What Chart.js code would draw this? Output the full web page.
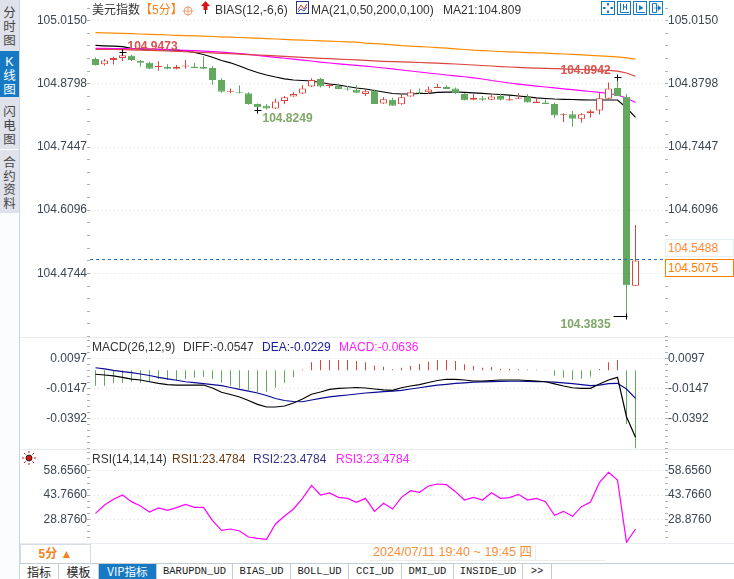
<!DOCTYPE html>
<html>
<head>
<meta charset="utf-8">
<title>美元指数</title>
<script src="https://cdn.jsdelivr.net/npm/chart.js@4/dist/chart.umd.min.js"></script>
<style>
  html, body { margin: 0; padding: 0; background: #fff; }
  body { position: relative; width: 734px; height: 579px; overflow: hidden; font: 12px "Liberation Sans", "Noto Sans CJK SC", sans-serif; color: #333; }
  canvas { position: absolute; left: 20px; }
  .t { position: absolute; white-space: nowrap; line-height: 14px; }
  .side { position: absolute; left: 0; top: 0; width: 19px; height: 579px; background: #fbfcfe; border-right: 1px solid #cdd6e0; }
  .tab { position: absolute; left: 0; width: 19px; background: #dfe2eb; text-align: center; font-size: 12.5px; line-height: 14px; color: #444; }
  .tab.on { background: #1579c4; color: #fff; }
  .hr { position: absolute; left: 20px; width: 714px; height: 1px; background: #e6ecf0; }
  .btab { position: absolute; top: 564px; height: 15px; line-height: 15px; text-align: center; border-right: 1px solid #c4ccd4; font: 10.5px/15px "Liberation Mono", "Noto Sans CJK SC", monospace; color: #222; }
  .btab.cn { font: 12px/15px "Noto Sans CJK SC", sans-serif; }
  .btab.on { background: #1579c4; color: #fff; }
  .box { position: absolute; left: 665px; width: 67px; height: 16px; line-height: 16px; text-indent: 2px; color: #ff8a33; background: #fff; }
  .ico { position: absolute; top: 1px; width: 12px; height: 12px; border: 1px solid #1579c4; }
</style>
</head>
<body>
<div class="side"></div>
<div class="tab" style="top:0;height:51px;"><div style="padding-top:6px;">分<br>时<br>图</div></div>
<div class="tab on" style="top:51px;height:46px;"><div style="padding-top:4px;">K<br>线<br>图</div></div>
<div class="tab" style="top:97px;height:52px;"><div style="padding-top:8px;">闪<br>电<br>图</div></div>
<div class="tab" style="top:150px;height:63px;"><div style="padding-top:7px;line-height:13.5px;">合<br>约<br>资<br>料</div></div>

<div class="hr" style="top:337px;"></div>
<div class="hr" style="top:449px;"></div>
<div class="hr" style="top:543px;"></div>
<div class="hr" style="top:563px;background:#c4ccd4;"></div>

<canvas id="priceChart" width="714" height="337" style="top:0"></canvas>
<canvas id="macdChart" width="714" height="111" style="top:338px"></canvas>
<canvas id="rsiChart" width="714" height="93" style="top:450px"></canvas>

<span class="t" style="left:92px;top:3px;">美元指数</span>
<span class="t" style="left:140px;top:3px;color:#f58220;">【5分】</span>
<svg style="position:absolute;left:183px;top:6px" width="10" height="10"><circle cx="5" cy="5" r="4" fill="none" stroke="#f0a070"/><path d="M0 5H10M5 0V10" stroke="#f0a070"/></svg>
<svg style="position:absolute;left:200px;top:1px" width="11" height="13"><path d="M5.5 0L10 5H7.5V9H3.5V5H1Z" fill="#e01010"/><path d="M5.5 9V13" stroke="#222"/></svg>
<span class="t" style="left:215px;top:3px;">BIAS(12,-6,6)</span>
<svg style="position:absolute;left:296px;top:1px" width="13" height="13"><rect x=".5" y=".5" width="12" height="12" fill="#fff" stroke="#223a80"/><path d="M2 9L5 4L8 8L11 3" fill="none" stroke="#e03030"/><path d="M2 11L5 8L8 10L11 6" fill="none" stroke="#2050c0"/></svg>
<span class="t" style="left:311px;top:3px;">MA(21,0,50,200,0,100)</span>
<span class="t" style="left:443px;top:3px;">MA21:104.809</span>

<div class="ico" style="left:601px"><svg width="12" height="12"><path d="M6 1V3.5M6 8.5V11M1 6H3.5M8.5 6H11" stroke="#1579c4" stroke-width="2"/></svg></div>
<div class="ico" style="left:617px"><svg width="12" height="12"><path d="M2.5 1V10.5H11M5.5 2V8M8.5 2V8M5.5 5H8.5" stroke="#1579c4" fill="none"/></svg></div>
<div class="ico" style="left:633px"><svg width="12" height="12"><path d="M2.5 1V10.5H11" stroke="#1579c4" fill="none"/><path d="M5 3L9.5 6L5 8.5Z" fill="#1579c4"/></svg></div>
<div class="ico" style="left:649px"><svg width="12" height="12"><path d="M2.5 1.5H6.5V10.5H2.5Z" stroke="#1579c4" fill="none"/><path d="M4 6H8M8 3.5L11 6L8 8.5Z" fill="#1579c4" stroke="#1579c4" stroke-width=".6"/></svg></div>

<div class="box" style="top:239px;border:1px solid #e6eef2;">104.5488</div>
<div class="box" style="top:259px;border:1px solid #ff8000;color:#ff8000;">104.5075</div>

<span class="t" style="left:92px;top:340px;">MACD(26,12,9)</span>
<span class="t" style="left:183px;top:340px;">DIFF:-0.0547</span>
<span class="t" style="left:262px;top:340px;color:#1a1a9c;">DEA:-0.0229</span>
<span class="t" style="left:339px;top:340px;color:#ff20ff;">MACD:-0.0636</span>

<svg style="position:absolute;left:22px;top:451px" width="14" height="14"><circle cx="7" cy="7" r="3" fill="#e01010" stroke="#222"/><path d="M7 0V2M7 12V14M0 7H2M12 7H14M2 2L3.5 3.5M12 2L10.5 3.5M2 12L3.5 10.5M12 12L10.5 10.5" stroke="#e01010"/></svg>
<span class="t" style="left:92px;top:452px;">RSI(14,14,14)</span>
<span class="t" style="left:172px;top:452px;color:#6b3a10;">RSI1:23.4784</span>
<span class="t" style="left:253px;top:452px;color:#33338c;">RSI2:23.4784</span>
<span class="t" style="left:336px;top:452px;color:#ff20ff;">RSI3:23.4784</span>

<div style="position:absolute;left:20px;top:544px;width:69px;height:18px;border:1px solid #d5dce4;border-width:1px 1px 0 1px;text-align:center;line-height:19px;color:#f58220;font-weight:bold;">5分 ▲</div>
<span class="t" style="left:373px;top:545px;color:#f58f3c;font-size:12.6px;">2024/07/11 19:40 ~ 19:45 四</span>
<div style="position:absolute;left:370px;top:560px;width:235px;height:1px;background:#ececec;"></div>
<div style="position:absolute;left:535px;top:545px;width:1px;height:15px;background:#ececec;"></div>

<div class="btab cn" style="left:20px;width:38px;">指标</div>
<div class="btab cn" style="left:59px;width:39px;">模板</div>
<div class="btab cn on" style="left:99px;width:57px;font-size:11.5px;">VIP指标</div>
<div class="btab" style="left:157px;width:75px;">BARUPDN_UD</div>
<div class="btab" style="left:233px;width:57px;">BIAS_UD</div>
<div class="btab" style="left:291px;width:57px;">BOLL_UD</div>
<div class="btab" style="left:349px;width:52px;">CCI_UD</div>
<div class="btab" style="left:402px;width:51px;">DMI_UD</div>
<div class="btab" style="left:454px;width:68px;">INSIDE_UD</div>
<div class="btab" style="left:523px;width:28px;">&gt;&gt;</div>

<script>
// tick labels
const priceTicks = [105.015, 104.8798, 104.7447, 104.6096, 104.4744];
const priceTicksRight = [105.015, 104.8798, 104.7447, 104.6096]; // 104.4744 sits behind the price boxes
const macdTicks = [0.0097, -0.0147, -0.0392];
const rsiTicks = [58.656, 43.766, 28.876];

// candles
const opens = [104.933, 104.922, 104.931, 104.935, 104.940, 104.929, 104.925, 104.916, 104.916, 104.912,
  104.917, 104.917, 104.916, 104.914, 104.888, 104.863, 104.862, 104.860, 104.837, 104.833,
  104.827, 104.843, 104.853, 104.859, 104.874, 104.890, 104.875, 104.875, 104.870, 104.867,
  104.858, 104.865, 104.838, 104.846, 104.836, 104.853, 104.862, 104.862, 104.871, 104.873,
  104.870, 104.858, 104.846, 104.849, 104.846, 104.854, 104.844, 104.848, 104.852, 104.839,
  104.840, 104.837, 104.813, 104.815, 104.805, 104.817, 104.823, 104.848, 104.871, 104.852, 104.448];
const closes = [104.920, 104.930, 104.935, 104.941, 104.931, 104.925, 104.912, 104.918, 104.912, 104.916,
  104.919, 104.914, 104.912, 104.888, 104.863, 104.865, 104.860, 104.837, 104.830, 104.827,
  104.842, 104.851, 104.858, 104.870, 104.888, 104.874, 104.878, 104.869, 104.868, 104.861,
  104.864, 104.837, 104.847, 104.833, 104.851, 104.862, 104.860, 104.868, 104.873, 104.869,
  104.860, 104.845, 104.850, 104.846, 104.853, 104.846, 104.847, 104.850, 104.840, 104.842,
  104.837, 104.812, 104.815, 104.805, 104.815, 104.821, 104.849, 104.870, 104.854, 104.449, 104.502];
const highs = [104.937, 104.933, 104.938, 104.947, 104.942, 104.931, 104.927, 104.928, 104.922, 104.920,
  104.931, 104.925, 104.939, 104.918, 104.892, 104.870, 104.877, 104.862, 104.838, 104.837,
  104.848, 104.854, 104.862, 104.877, 104.892, 104.893, 104.881, 104.880, 104.875, 104.877,
  104.868, 104.867, 104.851, 104.850, 104.858, 104.868, 104.870, 104.874, 104.880, 104.877,
  104.872, 104.860, 104.858, 104.854, 104.859, 104.859, 104.854, 104.860, 104.858, 104.850,
  104.847, 104.840, 104.817, 104.822, 104.817, 104.825, 104.862, 104.883, 104.894, 104.858, 104.578];
const lows = [104.919, 104.919, 104.921, 104.929, 104.929, 104.917, 104.911, 104.908, 104.911, 104.911,
  104.912, 104.914, 104.911, 104.878, 104.861, 104.860, 104.859, 104.835, 104.825, 104.825,
  104.826, 104.837, 104.852, 104.858, 104.873, 104.872, 104.871, 104.869, 104.865, 104.860,
  104.854, 104.837, 104.837, 104.833, 104.835, 104.852, 104.858, 104.858, 104.871, 104.869,
  104.858, 104.845, 104.845, 104.843, 104.845, 104.844, 104.844, 104.848, 104.840, 104.839,
  104.837, 104.807, 104.798, 104.788, 104.797, 104.808, 104.814, 104.848, 104.854, 104.381, 104.448];

// moving averages
const ma200 = [104.9895, 104.9891, 104.9885, 104.9878, 104.9872, 104.9865, 104.9859, 104.9850, 104.9844, 104.9838,
  104.9831, 104.9825, 104.9818, 104.9812, 104.9805, 104.9797, 104.9790, 104.9782, 104.9776, 104.9767,
  104.9758, 104.9750, 104.9741, 104.9733, 104.9726, 104.9718, 104.9711, 104.9705, 104.9696, 104.9690,
  104.9669, 104.9658, 104.9647, 104.9634, 104.9615, 104.9604, 104.9596, 104.9587, 104.9574, 104.9562,
  104.9547, 104.9534, 104.9519, 104.9510, 104.9502, 104.9491, 104.9482, 104.9476, 104.9467, 104.9461,
  104.9455, 104.9446, 104.9437, 104.9431, 104.9420, 104.9410, 104.9399, 104.9388, 104.9375, 104.9354, 104.9326];
const ma100 = [104.9538, 104.9536, 104.9534, 104.9529, 104.9525, 104.9521, 104.9514, 104.9508, 104.9502, 104.9493,
  104.9487, 104.9478, 104.9470, 104.9461, 104.9452, 104.9444, 104.9433, 104.9425, 104.9416, 104.9407,
  104.9397, 104.9388, 104.9377, 104.9365, 104.9354, 104.9345, 104.9337, 104.9328, 104.9320, 104.9311,
  104.9300, 104.9290, 104.9281, 104.9275, 104.9268, 104.9262, 104.9255, 104.9247, 104.9240, 104.9232,
  104.9223, 104.9213, 104.9202, 104.9191, 104.9181, 104.9168, 104.9159, 104.9151, 104.9142, 104.9136,
  104.9129, 104.9123, 104.9117, 104.9110, 104.9106, 104.9102, 104.9095, 104.9087, 104.9069, 104.9031, 104.8960];
const ma50 = [104.9559, 104.9557, 104.9555, 104.9553, 104.9551, 104.9549, 104.9547, 104.9540, 104.9532, 104.9523,
  104.9517, 104.9508, 104.9497, 104.9487, 104.9476, 104.9461, 104.9446, 104.9429, 104.9410, 104.9388,
  104.9367, 104.9347, 104.9326, 104.9305, 104.9288, 104.9262, 104.9245, 104.9228, 104.9211, 104.9193,
  104.9176, 104.9159, 104.9138, 104.9117, 104.9095, 104.9074, 104.9052, 104.9031, 104.9009, 104.8988,
  104.8969, 104.8950, 104.8928, 104.8902, 104.8870, 104.8843, 104.8817, 104.8793, 104.8770, 104.8748,
  104.8731, 104.8712, 104.8693, 104.8673, 104.8654, 104.8635, 104.8616, 104.8592, 104.8560, 104.8496, 104.8400];
const ma21 = [104.9624, 104.9613, 104.9604, 104.9596, 104.9557, 104.9547, 104.9523, 104.9523, 104.9523, 104.9519,
  104.9502, 104.9470, 104.9427, 104.9367, 104.9298, 104.9249, 104.9181, 104.9106, 104.9042, 104.8988,
  104.8945, 104.8907, 104.8881, 104.8870, 104.8860, 104.8828, 104.8795, 104.8774, 104.8742, 104.8710,
  104.8688, 104.8656, 104.8624, 104.8592, 104.8581, 104.8581, 104.8592, 104.8596, 104.8614, 104.8620,
  104.8624, 104.8616, 104.8607, 104.8596, 104.8581, 104.8571, 104.8556, 104.8539, 104.8521, 104.8500,
  104.8485, 104.8474, 104.8468, 104.8464, 104.8457, 104.8453, 104.8453, 104.8453, 104.8453, 104.8288, 104.8083];

// macd panel
const macdBars = [-0.0126, -0.0126, -0.0107, -0.0102, -0.0094, -0.0102, -0.0094, -0.0074, -0.0080, -0.0082,
  -0.0072, -0.0061, -0.0053, -0.0072, -0.0102, -0.0126, -0.0148, -0.0161, -0.0180, -0.0175,
  -0.0143, -0.0102, -0.0058, 0.0006, 0.0064, 0.0083, 0.0083, 0.0083, 0.0083, 0.0075,
  0.0064, 0.0037, 0.0029, 0.0008, 0.0020, 0.0034, 0.0051, 0.0069, 0.0083, 0.0083,
  0.0075, 0.0048, 0.0034, 0.0020, 0.0026, 0.0012, 0.0012, 0.0007, 0.0005, 0.0004,
  0.0001, -0.0045, -0.0061, -0.0077, -0.0069, -0.0053, 0.0010, 0.0064, 0.0083, -0.0438, -0.0636];
const diff = [-0.0033, -0.0039, -0.0047, -0.0059, -0.0072, -0.0080, -0.0094, -0.0108, -0.0117, -0.0121,
  -0.0121, -0.0121, -0.0121, -0.0145, -0.0180, -0.0198, -0.0218, -0.0247, -0.0278, -0.0300,
  -0.0300, -0.0292, -0.0267, -0.0235, -0.0196, -0.0178, -0.0157, -0.0148, -0.0145, -0.0141,
  -0.0145, -0.0153, -0.0161, -0.0164, -0.0143, -0.0129, -0.0117, -0.0100, -0.0084, -0.0074,
  -0.0074, -0.0080, -0.0088, -0.0088, -0.0084, -0.0080, -0.0080, -0.0080, -0.0084, -0.0088,
  -0.0094, -0.0112, -0.0129, -0.0143, -0.0148, -0.0148, -0.0112, -0.0080, -0.0058, -0.0379, -0.0547];
const dea = [0.0020, 0.0011, -0.0001, -0.0011, -0.0020, -0.0031, -0.0043, -0.0058, -0.0070, -0.0082,
  -0.0094, -0.0102, -0.0110, -0.0118, -0.0126, -0.0141, -0.0156, -0.0170, -0.0186, -0.0206,
  -0.0231, -0.0247, -0.0255, -0.0257, -0.0243, -0.0229, -0.0218, -0.0210, -0.0202, -0.0194,
  -0.0186, -0.0180, -0.0174, -0.0171, -0.0165, -0.0153, -0.0143, -0.0132, -0.0122, -0.0115,
  -0.0108, -0.0103, -0.0098, -0.0095, -0.0093, -0.0091, -0.0090, -0.0090, -0.0091, -0.0093,
  -0.0094, -0.0098, -0.0104, -0.0110, -0.0117, -0.0125, -0.0121, -0.0110, -0.0107, -0.0153, -0.0229];

// rsi panel
const rsi = [32.56, 37.69, 41.19, 43.86, 39.75, 37.08, 33.38, 35.85, 34.41, 36.05,
  38.11, 36.26, 36.26, 28.04, 22.08, 22.90, 21.67, 17.97, 17.15, 16.53,
  25.98, 30.91, 35.23, 41.80, 49.82, 43.86, 45.09, 42.42, 41.80, 39.34,
  41.80, 33.79, 38.72, 35.23, 42.42, 46.53, 45.50, 49.41, 50.64, 50.23,
  45.92, 40.78, 42.42, 40.78, 45.30, 41.80, 42.22, 44.27, 40.78, 41.80,
  39.75, 31.33, 33.79, 30.71, 36.67, 39.55, 51.67, 57.84, 53.11, 14.68, 22.90];

// marked extremes and last price line
const markBars = [3, 18, 58, 59];
const markValues = [104.9473, 104.8249, 104.8942, 104.3835];
const markLabels = ["104.9473", "104.8249", "104.8942", "104.3835"];
const lastPrice = 104.504;

const RED = "#d9453f";
const GREEN = "#62a85f";
const xMin = -0.6111;
const xMax = 63.2778;

const points = (values) => values.map((y, x) => ({ x, y }));

const lineSet = (values, color) => ({
  type: "line",
  data: points(values),
  borderColor: color,
  borderWidth: 1.2,
  pointRadius: 0,
  tension: 0,
  order: 3,
});

// labelled ticks plus the little minor dots in between
const buildTicks = (major, steps) => (scale) => {
  const gap = Math.abs(major[1] - major[0]) / steps;
  const list = major.map((value) => ({ value, isMajor: true }));
  for (let v = major[0] + gap * 10; v > scale.min; v -= gap) {
    if (v < scale.max && !major.some((m) => Math.abs(m - v) < gap / 2)) {
      list.push({ value: v, isMajor: false });
    }
  }
  return list.sort((a, b) => a.value - b.value);
};

const yAxis = (position, min, max, major, digits, steps) => ({
  position,
  min,
  max,
  afterBuildTicks: (scale) => {
    scale.ticks = buildTicks(major, steps)(scale);
  },
  afterFit: (scale) => {
    scale.width = position === "left" ? 70 : 69;
    scale.paddingTop = 0;
    scale.paddingBottom = 0;
  },
  border: { display: false, dash: [1, 3] },
  grid: {
    drawOnChartArea: position === "left",
    tickLength: 3,
    color: (c) => (c.tick && c.tick.isMajor ? "#dcdcdc" : "rgba(0,0,0,0)"),
    tickColor: "#b0b0b0",
  },
  ticks: {
    autoSkip: false,
    padding: 0,
    color: "#3a4652",
    font: { family: "'Liberation Sans', sans-serif", size: 12 },
    callback: (value) => (major.includes(value) ? value.toFixed(digits) : ""),
  },
});

const panelOptions = (min, max, major, majorRight, digits, steps) => ({
  responsive: false,
  animation: false,
  events: [],
  layout: { padding: 0 },
  plugins: { legend: { display: false }, tooltip: { enabled: false } },
  scales: {
    x: { type: "linear", display: false, min: xMin, max: xMax, offset: false },
    y: yAxis("left", min, max, major, digits, steps),
    yRight: yAxis("right", min, max, majorRight, digits, steps),
  },
});

// high/low labels on the price panel, with their small black crosses
const markPlugin = {
  id: "marks",
  afterDatasetsDraw(chart) {
    const { ctx, scales } = chart;
    const spots = [
      { dx: 5, dy: -6, left: 3, right: 4, color: "#d9534f" },
      { dx: 5, dy: 8, left: 3, right: 4, color: "#7fa868" },
      { dx: -57, dy: -7, left: 3, right: 4, color: "#d9534f" },
      { dx: -66, dy: 8, left: 13, right: 1, color: "#7fa868" },
    ];
    ctx.save();
    ctx.font = "bold 12px 'Liberation Sans', sans-serif";
    ctx.textBaseline = "middle";
    markBars.forEach((bar, i) => {
      const x = scales.x.getPixelForValue(bar);
      const y = Math.round(scales.y.getPixelForValue(markValues[i])) + 0.5;
      const s = spots[i];
      ctx.strokeStyle = "#000";
      ctx.lineWidth = 1;
      ctx.beginPath();
      ctx.moveTo(x - s.left, y);
      ctx.lineTo(x + s.right, y);
      ctx.moveTo(x, y - 3);
      ctx.lineTo(x, y + 3);
      ctx.stroke();
      ctx.fillStyle = s.color;
      ctx.fillText(markLabels[i], x + s.dx, y + s.dy);
    });
    ctx.restore();
  },
};

new Chart(document.getElementById("priceChart").getContext("2d"), {
  type: "bar",
  data: {
    datasets: [
      lineSet(ma200, "#ff8c00"),
      lineSet(ma100, RED),
      lineSet(ma50, "#ff00ff"),
      lineSet(ma21, "#000"),
      {
        type: "line",
        data: [{ x: xMin, y: lastPrice }, { x: xMax, y: lastPrice }],
        borderColor: "#2a6fb8",
        borderWidth: 1,
        borderDash: [3, 3],
        pointRadius: 0,
        order: 0,
      },
      {
        data: highs.map((h, x) => ({ x, y: [lows[x], h] })),
        backgroundColor: closes.map((c, i) => (c >= opens[i] ? RED : GREEN)),
        borderWidth: 0,
        barThickness: 1,
        inflateAmount: 0, // the default blurs a 1px bar over three columns
        grouped: false,
        order: 2,
      },
      {
        data: opens.map((o, x) => ({ x, y: [o, closes[x]] })),
        backgroundColor: closes.map((c, i) => (c >= opens[i] ? "#fff" : GREEN)),
        borderColor: closes.map((c, i) => (c >= opens[i] ? RED : GREEN)),
        borderWidth: 1,
        borderSkipped: false,
        barThickness: 7,
        inflateAmount: 0,
        grouped: false,
        order: 1,
      },
    ],
  },
  options: panelOptions(104.3381, 105.0593, priceTicks, priceTicksRight, 4, 5),
  plugins: [markPlugin],
});

new Chart(document.getElementById("macdChart").getContext("2d"), {
  type: "bar",
  data: {
    datasets: [
      {
        data: points(macdBars),
        backgroundColor: macdBars.map((v) => (v >= 0 ? RED : GREEN)),
        barThickness: 1,
        inflateAmount: 0,
        grouped: false,
        order: 4,
      },
      lineSet(diff, "#000"),
      lineSet(dea, "#0a0a96"),
    ],
  },
  options: panelOptions(-0.06422, 0.02624, macdTicks, macdTicks, 4, 5),
});

new Chart(document.getElementById("rsiChart").getContext("2d"), {
  type: "line",
  data: {
    datasets: [lineSet(rsi, "#ff00ff")],
  },
  options: panelOptions(14.266, 71.603, rsiTicks, rsiTicks, 4, 4),
});
</script>
</body>
</html>
